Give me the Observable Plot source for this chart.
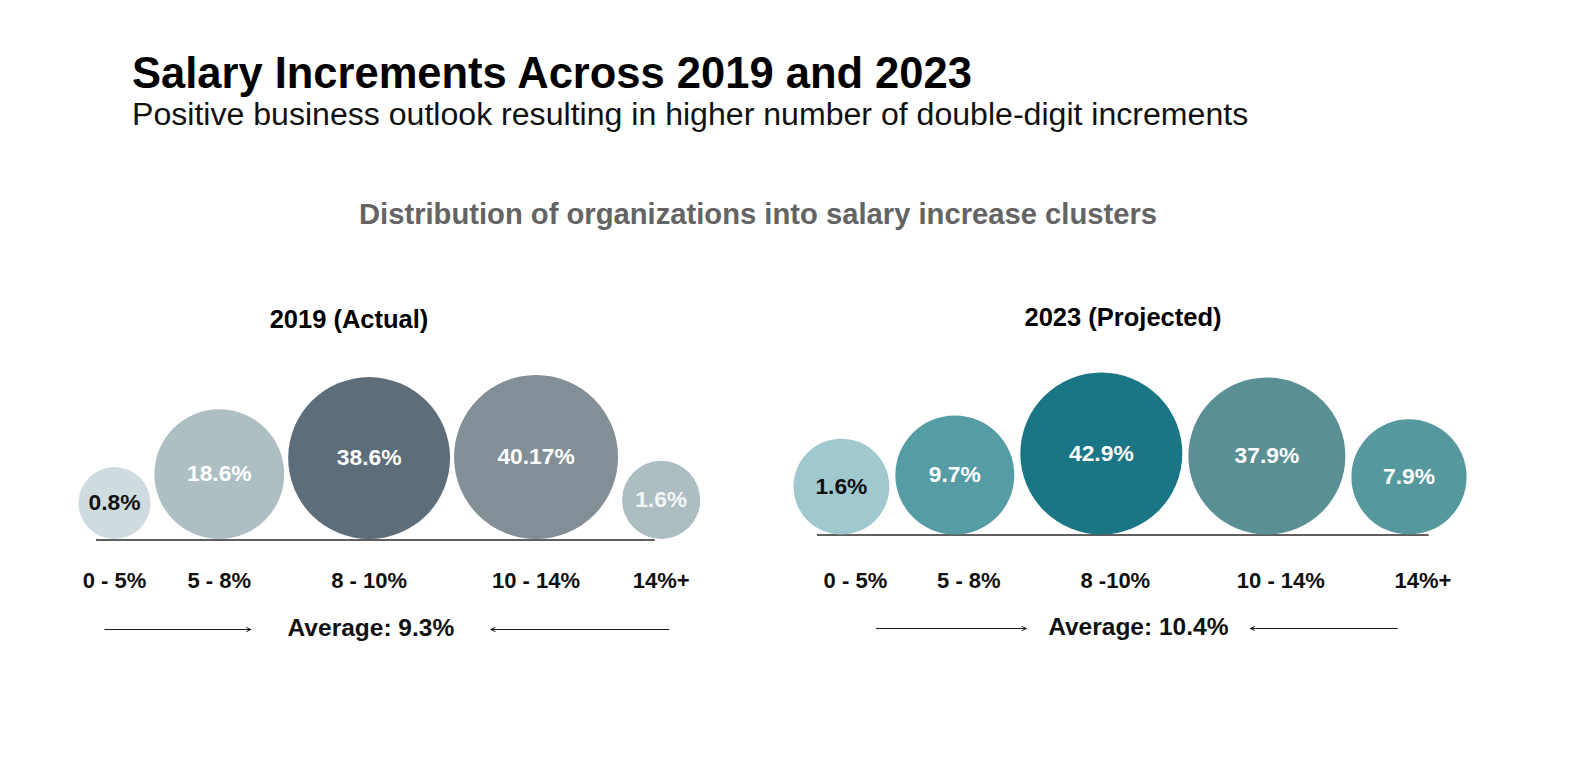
<!DOCTYPE html>
<html>
<head>
<meta charset="utf-8">
<script src="https://cdn.jsdelivr.net/npm/d3@7"></script>
<script src="https://cdn.jsdelivr.net/npm/@observablehq/plot@0.6"></script>
<style>
html, body { margin: 0; padding: 0; background: #fff; }
#page { position: relative; width: 1572px; height: 760px; overflow: hidden;
  font-family: "Liberation Sans", Arial, Helvetica, sans-serif; color: #000; }
.t { position: absolute; white-space: nowrap; line-height: 1; }
#title { left: 132px; top: 52px; font-size: 43.5px; font-weight: bold; }
#subtitle { left: 132px; top: 98px; font-size: 32.1px; color: #111; }
#section { left: 758px; top: 200px; font-size: 29.2px; font-weight: bold; color: #646464; transform: translateX(-50%); }
.ptitle { font-size: 25.5px; font-weight: bold; transform: translateX(-50%); }
#pt1 { left: 349px; top: 307px; }
#pt2 { left: 1123px; top: 305px; }
.panel { position: absolute; top: 280px; }
#panel1 { left: 0px; }
#panel2 { left: 786px; }
</style>
</head>
<body>
<div id="page">
  <div class="t" id="title"></div>
  <div class="t" id="subtitle"></div>
  <div class="t" id="section"></div>
  <div class="t ptitle" id="pt1"></div>
  <div class="t ptitle" id="pt2"></div>
  <div class="panel" id="panel1"></div>
  <div class="panel" id="panel2"></div>
</div>
<script>
// ---- data ----
const chartTitle = "Salary Increments Across 2019 and 2023";
const chartSubtitle = "Positive business outlook resulting in higher number of double-digit increments";
const sectionTitle = "Distribution of organizations into salary increase clusters";
const panelTitles = ["2019 (Actual)", "2023 (Projected)"];

const clusters2019 = ["0 - 5%", "5 - 8%", "8 - 10%", "10 - 14%", "14%+"];
const clusters2023 = ["0 - 5%", "5 - 8%", "8 -10%", "10 - 14%", "14%+"];
const share2019 = [0.8, 18.6, 38.6, 40.17, 1.6];
const share2023 = [1.6, 9.7, 42.9, 37.9, 7.9];
const average2019 = 9.3;
const average2023 = 10.4;

// ---- styles ----
const fills2019 = ["#cfdcdf", "#adbfc3", "#5d6d79", "#828f97", "#adbec2"];
const fills2023 = ["#a0c9cf", "#559ca4", "#1a7585", "#5a8f94", "#55999f"];
const ink2019 = ["#111111", "#ffffff", "#ffffff", "#ffffff", "#f4f6f6"];
const ink2023 = ["#111111", "#ffffff", "#ffffff", "#ffffff", "#ffffff"];

document.getElementById("title").textContent = chartTitle;
document.getElementById("subtitle").textContent = chartSubtitle;
document.getElementById("section").textContent = sectionTitle;
document.getElementById("pt1").textContent = panelTitles[0];
document.getElementById("pt2").textContent = panelTitles[1];

function panel(el, cfg) {
  const {cats, vals, avg, fills, inks, rRange, gap, startX, baseline, ruleY,
         labelY, labelDx, avgY, lineEndFrac, avgShift, arrowInner, arrowOuterL, arrowOuterR} = cfg;
  const rOpts = {type: "sqrt", domain: [0, d3.max(vals)], range: rRange};
  const rScale = Plot.scale({r: rOpts});
  const radii = vals.map(v => rScale.apply(v));
  // pack bubbles side by side along the baseline
  const xs = [];
  let cursor = startX;
  radii.forEach(r => { xs.push(cursor + r); cursor += 2 * r + gap; });
  const rows = cats.map((c, i) => ({
    cat: c, value: vals[i], x: xs[i], y: baseline - radii[i], fill: fills[i], ink: inks[i]
  }));
  const n = rows.length - 1;
  const lx1 = xs[0] - 0.5 * radii[0];
  const lx2 = xs[n] + lineEndFrac * radii[n];
  const ax = (lx1 + lx2) / 2 + avgShift;
  const arrows = [
    {x1: ax + arrowOuterL, x2: ax - arrowInner, y: avgY + 1},
    {x1: ax + arrowOuterR, x2: ax + arrowInner, y: avgY + 1}
  ];
  const fontFamily = "'Liberation Sans', Arial, Helvetica, sans-serif";
  const svg = Plot.plot({
    width: 786,
    height: 400,
    margin: 0,
    x: {type: "identity", axis: null},
    y: {type: "identity", axis: null},
    r: rOpts,
    color: {type: "identity"},
    style: {fontFamily, background: "transparent", overflow: "visible"},
    marks: [
      Plot.ruleY([ruleY], {y: d => d, x1: () => lx1, x2: () => lx2, stroke: "#2a2a2a", strokeWidth: 1.3}),
      Plot.dot(rows, {x: "x", y: "y", r: "value", fill: "fill"}),
      Plot.text(rows, {x: "x", y: "y", text: d => `${d.value}%`, fill: "ink",
        fontSize: 22.8, fontWeight: "bold"}),
      Plot.text(rows, {x: "x", y: () => labelY, dx: labelDx, text: "cat", fill: "#111",
        fontSize: 22, fontWeight: "bold"}),
      Plot.text([avg], {x: () => ax, y: () => avgY, text: d => `Average: ${d}%`, fill: "#111",
        fontSize: 24.5, fontWeight: "bold"}),
      Plot.arrow(arrows, {x1: "x1", y1: "y", x2: "x2", y2: "y", stroke: "#1a1a1a",
        strokeWidth: 1, headLength: 7, headAngle: 50})
    ]
  });
  el.appendChild(svg);
}

panel(document.getElementById("panel1"), {
  cats: clusters2019, vals: share2019, avg: average2019, fills: fills2019, inks: ink2019,
  rRange: [28.4, 82], gap: 4, startX: 78, baseline: 258.5, ruleY: 259.5,
  labelY: 300, labelDx: 0, avgY: 348, lineEndFrac: -0.15, avgShift: -5,
  arrowInner: 120, arrowOuterL: -266, arrowOuterR: 298
});

panel(document.getElementById("panel2"), {
  cats: clusters2023, vals: share2023, avg: average2023, fills: fills2023, inks: ink2023,
  rRange: [40, 81], gap: 6, startX: 7, baseline: 254, ruleY: 254.5,
  labelY: 300, labelDx: 14, avgY: 347, lineEndFrac: 0.35, avgShift: 15,
  arrowInner: 112, arrowOuterL: -262, arrowOuterR: 259
});
</script>
</body>
</html>
